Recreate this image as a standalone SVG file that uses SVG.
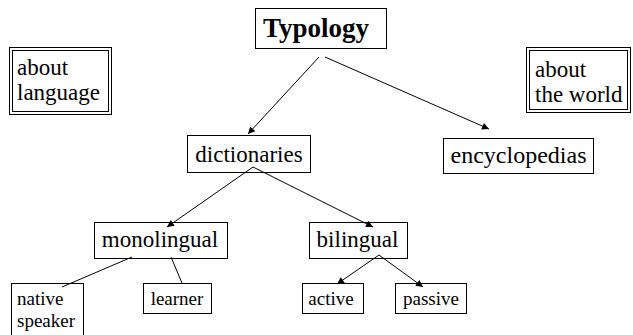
<svg xmlns="http://www.w3.org/2000/svg" width="633" height="335" viewBox="0 0 633 335">
<style>
.box{fill:#fff;stroke:#000;stroke-width:1}
.t{font-family:"Liberation Serif","Times New Roman",serif;fill:#000}
.m{font-size:23px}
.s{font-size:19px}
.ln{stroke:#000;stroke-width:1;fill:none}
.ar{marker-end:url(#ah)}
</style>
<defs>
<marker id="ah" viewBox="0 0 10 10" refX="10" refY="5" markerWidth="9" markerHeight="7" markerUnits="userSpaceOnUse" orient="auto">
<path d="M0,0 L10,5 L0,10 z" fill="#000"/>
</marker>
</defs>
<rect width="633" height="335" fill="#fff"/>
<g id="about-language">
<rect class="box" x="9.5" y="47.5" width="102" height="67" stroke="#222"/>
<rect class="box" x="12.5" y="50.5" width="96" height="61" stroke="#222"/>
<text class="t m" x="17" y="75">about</text>
<text class="t m" x="17" y="100">language</text>
</g>
<g id="about-world">
<rect class="box" x="526.5" y="47.5" width="104" height="65" stroke="#222"/>
<rect class="box" x="529.5" y="50.5" width="98" height="59" stroke="#222"/>
<text class="t m" x="535" y="77">about</text>
<text class="t m" x="535" y="102">the world</text>
</g>
<g id="typology">
<rect class="box" x="255.5" y="8.5" width="131" height="40"/>
<text class="t" x="316" y="37" font-size="27" font-weight="bold" text-anchor="middle">Typology</text>
</g>
<g id="dictionaries">
<rect class="box" x="187.5" y="135.5" width="123" height="37"/>
<text class="t m" x="249" y="162" text-anchor="middle">dictionaries</text>
</g>
<g id="encyclopedias">
<rect class="box" x="443.5" y="138.5" width="150" height="35"/>
<text class="t" x="518.5" y="163" font-size="24" text-anchor="middle">encyclopedias</text>
</g>
<g id="monolingual">
<rect class="box" x="94.5" y="222.5" width="133" height="36"/>
<text class="t m" x="160" y="247" text-anchor="middle">monolingual</text>
</g>
<g id="bilingual">
<rect class="box" x="309.5" y="222.5" width="98" height="36"/>
<text class="t m" x="357.5" y="247" text-anchor="middle">bilingual</text>
</g>
<g id="native-speaker">
<rect class="box" x="11.5" y="283.5" width="72" height="60"/>
<text class="t s" x="17" y="305">native</text>
<text class="t s" x="17" y="327">speaker</text>
</g>
<g id="learner">
<rect class="box" x="143.5" y="283.5" width="68" height="30"/>
<text class="t s" x="177" y="305" text-anchor="middle">learner</text>
</g>
<g id="active">
<rect class="box" x="302.5" y="283.5" width="61" height="30"/>
<text class="t s" x="331" y="305" text-anchor="middle">active</text>
</g>
<g id="passive">
<rect class="box" x="395.5" y="283.5" width="71" height="30"/>
<text class="t s" x="431" y="305" text-anchor="middle">passive</text>
</g>
<g id="connectors">
<line class="ln ar" x1="319" y1="57" x2="248" y2="134"/>
<line class="ln ar" x1="325" y1="57" x2="489" y2="129"/>
<line class="ln ar" x1="253" y1="167" x2="167" y2="227"/>
<line class="ln ar" x1="253" y1="167" x2="373" y2="227"/>
<line class="ln" x1="132" y1="257" x2="62" y2="287"/>
<line class="ln" x1="171" y1="257" x2="182" y2="283"/>
<line class="ln ar" x1="379" y1="255" x2="337" y2="284"/>
<line class="ln ar" x1="379" y1="255" x2="423" y2="287"/>
</g>
</svg>
